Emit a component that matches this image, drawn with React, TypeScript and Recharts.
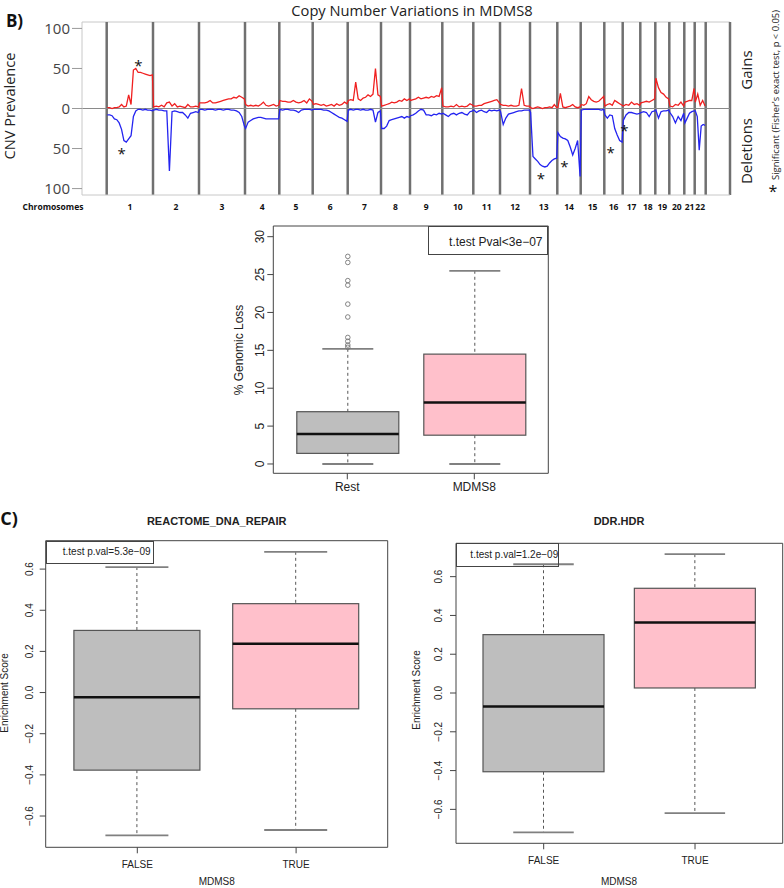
import React from 'react';
import {
  ComposedChart,
  Line,
  Bar,
  Scatter,
  XAxis,
  YAxis,
  CartesianGrid,
  ReferenceLine,
} from 'recharts';

// ── Fonts ───────────────────────────────────────────────────

const CNV_FONT = '"Open Sans", "DejaVu Sans", sans-serif';
const R_FONT = '"Liberation Sans", Arial, sans-serif';

// ── CNV data (panel B, top) ─────────────────────────────────

const CHROM_LABELS = ['1', '2', '3', '4', '5', '6', '7', '8', '9', '10', '11', '12', '13', '14', '15', '16', '17', '18', '19', '20', '21', '22'];
// chromosome widths in plot units (genome axis runs 0..648)
const CHROM_WIDTHS = [46.3, 46, 46, 34.3, 33.4, 35, 33.3, 29, 32.3, 31, 26.7, 30, 27.3, 23.4, 23.6, 18.4, 17.6, 15, 14, 15, 10.4, 11];
const GENOME_START = 24.7;
const GENOME_END = 648;

// % of samples with gain, sampled evenly along each chromosome
const GAINS: number[][] = [
  [1, 1, 0, 1, 1, 2, 5, 2, 3, 17, 5, 48, 50, 45, 45, 44, 43, 42, 41, 42],
  [2, 3, 2, 4, 2, 7, 8, 3, 6, 2, 3, 2, 1, 5, 2, 2, 3, 2],
  [7, 7, 7, 8, 10, 7, 7, 8, 9, 10, 11, 12, 12, 14, 13, 16, 14, 12],
  [5, 3, 4, 3, 4, 3, 5, 8, 4, 3, 4, 5, 3, 4],
  [10, 9, 9, 8, 8, 10, 8, 7, 8, 10, 7, 12, 9],
  [5, 6, 5, 4, 5, 3, 4, 5, 3, 6, 4, 5, 8, 6],
  [10, 11, 10, 33, 12, 10, 13, 14, 17, 15, 18, 50, 17, 15],
  [3, 4, 5, 6, 8, 7, 8, 10, 9, 12, 10, 12],
  [10, 11, 12, 14, 12, 13, 14, 13, 15, 14, 16, 15, 26],
  [3, 2, 2, 3, 2, 5, 2, 3, 2, 3, 6, 4],
  [3, 3, 4, 4, 6, 7, 8, 9, 10, 11, 7],
  [5, 4, 4, 3, 4, 3, 3, 4, 25, 4, 3, 3],
  [1, 0, 1, 2, 1, 0, 1, 1, 2, 1, 5, 1],
  [1, 19, 2, 1, 2, 3, 5, 2, 1, 2],
  [5, 4, 6, 15, 11, 9, 8, 9, 12, 15],
  [3, 5, 6, 4, 10, 8, 6, 4],
  [3, 5, 4, 8, 5, 6, 4],
  [7, 8, 9, 8, 10, 12],
  [38, 26, 20, 18, 14, 12],
  [3, 2, 5, 4, 8, 3],
  [8, 9, 10, 10, 25],
  [8, 18, 4, 10, 3],
];

// % of samples with deletion (drawn downward)
const LOSSES: number[][] = [
  [-8, -8, -9, -13, -14, -18, -26, -40, -42, -38, -34, -10, -3, -1, -1, -2, -1, -2, -2, -3],
  [-2, -1, -2, -2, -3, -3, -78, -4, -3, -4, -5, -5, -8, -12, -6, -5, -4, -5],
  [-1, -1, -2, -1, -1, -1, -2, -1, -1, -2, -1, -1, -2, -2, -3, -5, -10, -22],
  [-25, -17, -15, -13, -12, -11, -11, -12, -13, -13, -13, -13, -13, -13],
  [-1, -2, -1, -1, -2, -2, -3, -5, -2, -1, -1, -1, -2],
  [-1, -1, -1, -1, -2, -2, -3, -5, -7, -9, -11, -12, -14, -16],
  [-2, -1, -2, -1, -1, -2, -1, -2, -2, -1, -2, -17, -5, -3],
  [-25, -25, -22, -15, -14, -13, -12, -11, -10, -12, -10, -11],
  [-9, -8, -6, -3, -1, -2, -8, -8, -9, -7, -8, -6, -7],
  [-6, -8, -10, -7, -6, -8, -6, -5, -7, -8, -4, -3],
  [-2, -5, -3, -2, -4, -5, -2, -3, -2, -3, -2],
  [-4, -20, -12, -7, -6, -5, -4, -3, -3, -2, -2, -2],
  [-5, -60, -63, -66, -70, -72, -73, -72, -68, -65, -63, -62],
  [-30, -35, -37, -38, -40, -48, -58, -50, -40, -85],
  [-2, -1, -1, -1, -1, -1, -1, -1, -2, -1],
  [-8, -12, -8, -9, -25, -33, -40, -42],
  [-15, -8, -5, -5, -6, -7, -6],
  [-5, -4, -5, -10, -4, -3],
  [-2, -12, -4, -3, -3, -2],
  [-5, -10, -18, -10, -15, -6],
  [-18, -12, -6, -4, -3],
  [-3, -10, -52, -22, -20, -21],
];

// significance asterisks
const SIG_POS = [56.3, 39.7, 459, 482.3, 528.7, 542.3];
const SIG_VAL = [57, -53, -84.6, -69.6, -52, -23.8];

const CNV_TICKS = [-100, -50, 0, 50, 100];

// ── Box plot data ───────────────────────────────────────────

const BOX_FILLS = ['#bebebe', '#ffc0cb'];

const LOSS_GROUPS = ['Rest', 'MDMS8'];
const LOSS_LOW = [0, 0];
const LOSS_Q1 = [1.4, 3.8];
const LOSS_MEDIAN = [3.96, 8.1];
const LOSS_Q3 = [6.9, 14.5];
const LOSS_HIGH = [15.2, 25.5];
const LOSS_OUTLIERS = [[27.4, 26.6, 24.2, 23.6, 21.1, 19.4, 16.7, 16.2, 15.7, 15.4], []];
const LOSS_TICKS = [0, 5, 10, 15, 20, 25, 30];

const ES_GROUPS = ['FALSE', 'TRUE'];
const ES_TICKS = [-0.6, -0.4, -0.2, 0, 0.2, 0.4, 0.6];

const REPAIR_LOW = [-0.694, -0.668];
const REPAIR_Q1 = [-0.377, -0.079];
const REPAIR_MEDIAN = [-0.023, 0.237];
const REPAIR_Q3 = [0.302, 0.432];
const REPAIR_HIGH = [0.61, 0.684];

const HDR_LOW = [-0.719, -0.619];
const HDR_Q1 = [-0.406, 0.026];
const HDR_MEDIAN = [-0.069, 0.363];
const HDR_Q3 = [0.301, 0.54];
const HDR_HIGH = [0.664, 0.716];

// ── Derived CNV tracks ──────────────────────────────────────

const CHROM_STARTS = CHROM_WIDTHS.map(
  (_, i) => GENOME_START + CHROM_WIDTHS.slice(0, i).reduce((a, b) => a + b, 0),
);
const GENOME_LAST = CHROM_STARTS[CHROM_STARTS.length - 1] + CHROM_WIDTHS[CHROM_WIDTHS.length - 1];
const BOUNDARIES = [...CHROM_STARTS, GENOME_LAST, GENOME_END];
const CHROM_CENTERS = CHROM_STARTS.map((s, i) => s + CHROM_WIDTHS[i] / 2);

function track(values: number[][]) {
  return values.flatMap((vals, c) =>
    vals.map((v, k) => ({
      x: CHROM_STARTS[c] + 0.6 + (CHROM_WIDTHS[c] - 1.2) * (k / (vals.length - 1)),
      v,
    })),
  );
}

const gainTrack = track(GAINS);
const lossTrack = track(LOSSES);
const sigPoints = SIG_POS.map((x, i) => ({ x, y: SIG_VAL[i] }));

// ── Helpers ─────────────────────────────────────────────────

function Txt({ x, y, rotate = 0, style, children }: any) {
  return (
    <div
      style={{
        position: 'absolute',
        left: x,
        top: y,
        transform: `translate(-50%, -50%) rotate(${rotate}deg)`,
        whiteSpace: 'nowrap',
        lineHeight: 1,
        color: '#222',
        ...style,
      }}
    >
      {children}
    </div>
  );
}

function frameRows({ offset }: any) {
  return [offset.top, offset.top + offset.height];
}
function frameCols({ offset }: any) {
  return [offset.left, offset.left + offset.width];
}

function Asterisk(props: any) {
  const { cx, cy } = props;
  return (
    <text x={cx} y={cy + 8} textAnchor="middle" fontSize={15} fontFamily={CNV_FONT} fill="#111">
      *
    </text>
  );
}

function BoxShape(props: any) {
  const { x, y, width, height, payload } = props;
  const { q1, q3, median, low, high, outliers, fill } = payload;
  const top = Math.min(y, y + height);
  const h = Math.abs(height);
  const py = (v: number) => top + ((q3 - v) * h) / (q3 - q1);
  const cx = x + width / 2;
  const cap = width / 4;
  const line = '#555';
  return (
    <g>
      <line x1={cx} x2={cx} y1={py(high)} y2={top} stroke={line} strokeDasharray="3 3" />
      <line x1={cx} x2={cx} y1={top + h} y2={py(low)} stroke={line} strokeDasharray="3 3" />
      <line x1={cx - cap} x2={cx + cap} y1={py(high)} y2={py(high)} stroke="#808080" strokeWidth={1.8} />
      <line x1={cx - cap} x2={cx + cap} y1={py(low)} y2={py(low)} stroke="#808080" strokeWidth={1.8} />
      <rect x={x} y={top} width={width} height={h} fill={fill} stroke={line} strokeWidth={1.2} />
      <line x1={x} x2={x + width} y1={py(median)} y2={py(median)} stroke="#111" strokeWidth={2.5} />
      {outliers.map((v: number, i: number) => (
        <circle key={i} cx={cx} cy={py(v)} r={2.3} fill="none" stroke="#777" strokeWidth={0.9} />
      ))}
    </g>
  );
}

function RotTick({ x, y, payload, size, fmt }: any) {
  return (
    <text
      x={x}
      y={y}
      transform={`rotate(-90 ${x} ${y})`}
      textAnchor="middle"
      fontSize={size}
      fontFamily={R_FONT}
      fill="#222"
    >
      {fmt(payload.value)}
    </text>
  );
}

const fmtInt = (v: number) => String(v);
const fmtDec = (v: number) => v.toFixed(1).replace('-', '\u2212');

// ── Box panel ───────────────────────────────────────────────

function BoxPanel({
  left, top, width, height, margin, yWidth, xHeight, groups, low, q1, median, q3, high,
  outliers, domain, ticks, fmt, pad, barSize, fontSize, yGap, xGap,
}: any) {
  const data = groups.map((g: string, i: number) => ({
    name: g,
    box: [q1[i], q3[i]],
    q1: q1[i],
    q3: q3[i],
    median: median[i],
    low: low[i],
    high: high[i],
    outliers: outliers ? outliers[i] : [],
    fill: BOX_FILLS[i],
  }));
  return (
    <div style={{ position: 'absolute', left, top }}>
      <ComposedChart width={width} height={height} data={data} margin={margin}>
        <CartesianGrid
          horizontalCoordinatesGenerator={frameRows}
          verticalCoordinatesGenerator={frameCols}
          stroke="#444"
        />
        <XAxis
          dataKey="name"
          padding={{ left: pad, right: pad }}
          height={xHeight}
          axisLine={false}
          tickLine={{ stroke: '#444' }}
          tickSize={6}
          tickMargin={xGap}
          interval={0}
          tick={{ fontSize, fill: '#222', fontFamily: R_FONT }}
        />
        <YAxis
          type="number"
          domain={domain}
          allowDataOverflow
          ticks={ticks}
          interval={0}
          width={yWidth}
          axisLine={false}
          tickLine={{ stroke: '#444' }}
          tickSize={6}
          tickMargin={yGap}
          tick={(p: any) => <RotTick x={p.x} y={p.y} payload={p.payload} size={fontSize} fmt={fmt} />}
        />
        <Bar dataKey="box" barSize={barSize} shape={<BoxShape />} isAnimationActive={false} />
      </ComposedChart>
    </div>
  );
}

function LegendBox({ left, top, width, height, tx, ty, size, children }: any) {
  return (
    <>
      <div
        style={{
          position: 'absolute',
          left,
          top,
          width,
          height,
          border: '1px solid #444',
          boxSizing: 'border-box',
        }}
      />
      <Txt x={tx} y={ty} style={{ fontSize: size, fontFamily: R_FONT }}>
        {children}
      </Txt>
    </>
  );
}

// ── CNV panel ───────────────────────────────────────────────

function CnvPanel() {
  return (
    <div style={{ position: 'absolute', left: 0, top: 0 }}>
      <ComposedChart width={784} height={215} margin={{ top: 22, right: 54, bottom: 0, left: 0 }}>
        <CartesianGrid
          vertical={false}
          horizontalCoordinatesGenerator={({ offset }: any) => [offset.top]}
          stroke="#c8c8c8"
        />
        <XAxis
          type="number"
          dataKey="x"
          domain={[0, GENOME_END]}
          allowDataOverflow
          ticks={CHROM_CENTERS}
          interval={0}
          tickFormatter={(_v: number, i: number) => CHROM_LABELS[i]}
          tickLine={false}
          axisLine={{ stroke: '#c8c8c8' }}
          height={20}
          tickSize={6}
          tickMargin={3}
          tick={{ fontSize: 8.5, fontWeight: 700, fill: '#111', fontFamily: CNV_FONT }}
        />
        <YAxis
          type="number"
          domain={[-108, 108]}
          allowDataOverflow
          ticks={CNV_TICKS}
          interval={0}
          tickFormatter={(v: number) => String(Math.abs(v))}
          width={82}
          tickSize={10}
          tickMargin={2}
          tickLine={{ stroke: '#999' }}
          axisLine={{ stroke: '#c8c8c8' }}
          tick={{ fontSize: 15, fill: '#444', fontFamily: CNV_FONT }}
        />
        {BOUNDARIES.map((b) => (
          <ReferenceLine key={b} x={b} stroke="#707070" strokeWidth={2.5} />
        ))}
        <ReferenceLine y={0} stroke="#8a8a8a" />
        <Line
          data={gainTrack}
          dataKey="v"
          type="linear"
          stroke="#f02020"
          strokeWidth={1.3}
          dot={false}
          isAnimationActive={false}
        />
        <Line
          data={lossTrack}
          dataKey="v"
          type="linear"
          stroke="#2424f0"
          strokeWidth={1.3}
          dot={false}
          isAnimationActive={false}
        />
        <Scatter data={sigPoints} dataKey="y" shape={Asterisk} isAnimationActive={false} />
      </ComposedChart>
    </div>
  );
}

// ── App ─────────────────────────────────────────────────────

export default function App() {
  return (
    <div
      style={{
        position: 'absolute',
        left: 0,
        top: 0,
        width: 784,
        height: 888,
        background: '#fff',
        overflow: 'hidden',
      }}
    >
      <CnvPanel />

      <BoxPanel
        left={200}
        top={215}
        width={355}
        height={285}
        margin={{ top: 11, right: 6.7, bottom: 0, left: 0 }}
        yWidth={73.3}
        xHeight={26.7}
        groups={LOSS_GROUPS}
        low={LOSS_LOW}
        q1={LOSS_Q1}
        median={LOSS_MEDIAN}
        q3={LOSS_Q3}
        high={LOSS_HIGH}
        outliers={LOSS_OUTLIERS}
        domain={[-1.23, 31.41]}
        ticks={LOSS_TICKS}
        fmt={fmtInt}
        pad={10.5}
        barSize={102}
        fontSize={12}
        yGap={3}
        xGap={3}
      />

      <BoxPanel
        left={0}
        top={505}
        width={400}
        height={383}
        margin={{ top: 35.7, right: 12.3, bottom: 0, left: 0 }}
        yWidth={45.7}
        xHeight={40.7}
        groups={ES_GROUPS}
        low={REPAIR_LOW}
        q1={REPAIR_Q1}
        median={REPAIR_MEDIAN}
        q3={REPAIR_Q3}
        high={REPAIR_HIGH}
        domain={[-0.752, 0.738]}
        ticks={ES_TICKS}
        fmt={fmtDec}
        pad={12.2}
        barSize={126}
        fontSize={10}
        yGap={6.8}
        xGap={8}
      />

      <BoxPanel
        left={400}
        top={505}
        width={384}
        height={383}
        margin={{ top: 38.3, right: 1.3, bottom: 0, left: 0 }}
        yWidth={56}
        xHeight={44.7}
        groups={ES_GROUPS}
        low={HDR_LOW}
        q1={HDR_Q1}
        median={HDR_MEDIAN}
        q3={HDR_Q3}
        high={HDR_HIGH}
        domain={[-0.775, 0.772]}
        ticks={ES_TICKS}
        fmt={fmtDec}
        pad={12}
        barSize={121}
        fontSize={10}
        yGap={8}
        xGap={8}
      />

      {/* Panel B annotations */}
      <Txt x={14.5} y={19.5} style={{ fontSize: 17, fontWeight: 700, fontFamily: CNV_FONT, color: '#111' }}>
        B)
      </Txt>
      <Txt x={412} y={9.5} style={{ fontSize: 14.7, fontFamily: CNV_FONT }}>
        Copy Number Variations in MDMS8
      </Txt>
      <Txt x={9} y={106} rotate={-90} style={{ fontSize: 14.6, fontFamily: CNV_FONT }}>
        CNV Prevalence
      </Txt>
      <Txt x={53} y={207} style={{ fontSize: 8.5, fontWeight: 700, fontFamily: CNV_FONT, color: '#111' }}>
        Chromosomes
      </Txt>
      <Txt x={746} y={70} rotate={-90} style={{ fontSize: 15, fontFamily: CNV_FONT }}>
        Gains
      </Txt>
      <Txt x={746} y={150.5} rotate={-90} style={{ fontSize: 15, fontFamily: CNV_FONT }}>
        Deletions
      </Txt>
      <Txt x={776} y={95} rotate={-90} style={{ fontSize: 9.4, fontFamily: CNV_FONT }}>
        Significant (Fisher's exact test, p &lt; 0.05)
      </Txt>
      <Txt x={773} y={191} style={{ fontSize: 16, fontFamily: CNV_FONT, color: '#111' }}>
        *
      </Txt>

      {/* Genomic loss box plot */}
      <Txt x={239} y={350} rotate={-90} style={{ fontSize: 12, fontFamily: R_FONT }}>
        % Genomic Loss
      </Txt>
      <LegendBox left={428.3} top={226} width={120} height={29} tx={495.8} ty={241.5} size={12}>
        t.test Pval&lt;3e{'\u2212'}07
      </LegendBox>

      {/* Panel C annotations */}
      <Txt x={9} y={518} style={{ fontSize: 18, fontWeight: 700, fontFamily: CNV_FONT, color: '#111' }}>
        C)
      </Txt>
      <Txt x={216.7} y={520.7} style={{ fontSize: 11, fontWeight: 700, fontFamily: R_FONT }}>
        REACTOME_DNA_REPAIR
      </Txt>
      <Txt x={4.5} y={693} rotate={-90} style={{ fontSize: 10, fontFamily: R_FONT }}>
        Enrichment Score
      </Txt>
      <Txt x={216.7} y={882} style={{ fontSize: 10, fontFamily: R_FONT }}>
        MDMS8
      </Txt>
      <LegendBox left={45.7} top={540.7} width={108.6} height={23.3} tx={106.7} ty={552.3} size={10}>
        t.test p.val=5.3e{'\u2212'}09
      </LegendBox>

      <Txt x={619} y={520.7} style={{ fontSize: 11, fontWeight: 700, fontFamily: R_FONT }}>
        DDR.HDR
      </Txt>
      <Txt x={416.7} y={690} rotate={-90} style={{ fontSize: 10, fontFamily: R_FONT }}>
        Enrichment Score
      </Txt>
      <Txt x={619} y={882} style={{ fontSize: 10, fontFamily: R_FONT }}>
        MDMS8
      </Txt>
      <LegendBox left={456} top={543.3} width={103.3} height={23.4} tx={514.3} ty={555} size={10}>
        t.test p.val=1.2e{'\u2212'}09
      </LegendBox>
    </div>
  );
}
